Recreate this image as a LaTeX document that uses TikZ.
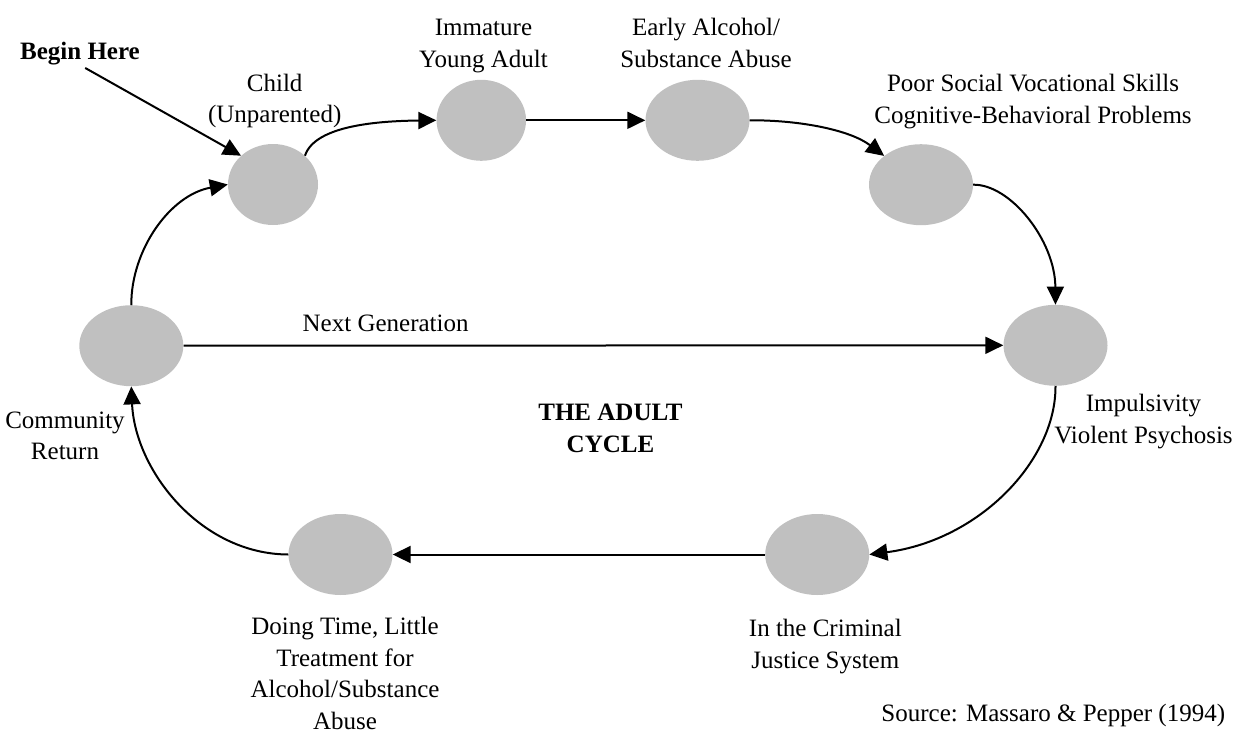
\documentclass[tikz,border=0pt]{standalone}
\usepackage{fontspec}
\setmainfont{Liberation Serif}
\usetikzlibrary{shapes.geometric,arrows.meta}
\definecolor{bubgray}{RGB}{192,192,192}
\begin{document}
\begin{tikzpicture}[x=1pt,y=-1pt,
  bub/.style={ellipse, fill=bubgray, draw=none, inner sep=0pt, minimum height=81pt},
  lab/.style={anchor=base, align=center, inner sep=0pt, font=\fontsize{25}{31.7}\selectfont},
  conn/.style={line width=2pt, -{Triangle[length=18pt,width=17pt]}},
]
\useasboundingbox (0,0) rectangle (1237,734);

% bubbles
\node[bub, minimum width=90pt]  (child) at (273,184.5) {};
\node[bub, minimum width=89.5pt] (imm)  at (481.3,120.3) {};
\node[bub, minimum width=104pt] (early) at (697.5,120.3) {};
\node[bub, minimum width=104pt] (poor)  at (921,184.7) {};
\node[bub, minimum width=104pt] (imp)   at (1055.5,345.3) {};
\node[bub, minimum width=104pt] (crim)  at (817.2,554.5) {};
\node[bub, minimum width=104pt] (doing) at (340.5,554.5) {};
\node[bub, minimum width=104pt] (comm)  at (131.3,345.7) {};

% labels (base = baseline of the last line)
\node[lab, font=\fontsize{25}{31.7}\selectfont\bfseries] (begin) at (80,59.3) {Begin Here};
\node[lab] (lchild) at (274.7,122.7) {Child\\(Unparented)};
\node[lab] (limm)   at (483.5,67.4) {Immature\\Young Adult};
\node[lab] (learly) at (706,67.4) {Early Alcohol/\\Substance Abuse};
\node[lab] (lpoor)  at (1033,123) {Poor Social Vocational Skills\\Cognitive-Behavioral Problems};
\node[lab] (limp)   at (1143.5,443.4) {Impulsivity\\Violent Psychosis};
\node[lab] (lcrim)  at (825.3,668.4) {In the Criminal\\Justice System};
\node[lab] (ldoing) at (345,729.5) {Doing Time, Little\\Treatment for\\Alcohol/Substance\\Abuse};
\node[lab] (lcomm)  at (65,459.7) {Community\\Return};
\node[lab] (lnext)  at (385.6,331.7) {Next Generation};
\node[lab, font=\fontsize{25}{31.7}\selectfont\bfseries] (lcycle) at (610.5,452.4) {THE ADULT\\CYCLE};
\node[lab] (lsource) at (1053.3,721.7) {Source: Massaro \& Pepper (1994)};

% connectors
\draw[conn, shorten <=6pt] (begin.south) -- (child.138);
\draw[conn] (child.42) .. controls (315,125) and (380,121) .. (imm.west);
\draw[conn] (imm.east) -- (early.west);
\draw[conn] (early.east) .. controls (800,120) and (850,130) .. (poor.142);
\draw[conn] (poor.east) .. controls (1010,184) and (1055,240) .. (imp.north);
\draw[conn] (imp.south) .. controls (1056,460) and (980,540) .. (crim.east);
\draw[conn] (crim.west) -- (doing.east);
\draw[conn] (doing.west) .. controls (200,554) and (135,470) .. (comm.south);
\draw[conn] (comm.north) .. controls (131,250) and (170,195) .. (child.west);
\draw[conn] (comm.east) -- (imp.west);
\end{tikzpicture}
\end{document}
